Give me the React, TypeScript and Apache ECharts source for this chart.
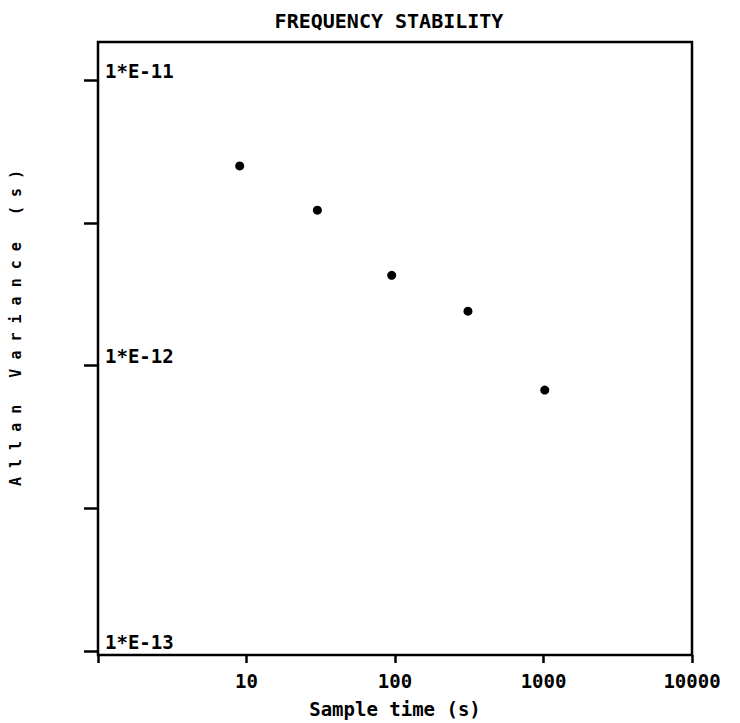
import React, { useEffect, useRef } from "react";
import * as echarts from "echarts";

const titleText = "FREQUENCY STABILITY";
const xName = "Sample time (s)";
const yName = "A l l a n   V a r i a n c e   ( s )";
const sampleTimes = [9, 30, 95, 310, 1020];
const allanValues = [5.0e-12, 3.5e-12, 2.07e-12, 1.55e-12, 8.2e-13];
const xMin = 1;
const xMax = 10000;
const yMin = 1e-13;
const yMax = 1e-11;
const yTickExpMin = -13;
const yTickExpMax = -11;
const yTickStep = 0.5;

const FONT = "'DejaVu Sans Mono', monospace";

export default function App() {
  const ref = useRef<HTMLDivElement>(null);
  useEffect(() => {
    document.body.style.margin = "0";
    if (!ref.current) return;
    const chart = echarts.init(ref.current, null, { renderer: "svg" });
    const gridLeft = 98;
    const gridRight = 48;
    const gridTop = 80;
    const gridBottom = 72;
    chart.setOption({
      animation: false,
      backgroundColor: "#ffffff",
      title: {
        text: titleText,
        left: 384,
        top: 6,
        textAlign: "center",
        textStyle: { fontFamily: FONT, fontWeight: "bold", fontSize: 20, color: "#000" },
      },
      grid: { left: gridLeft, right: gridRight, top: gridTop, bottom: gridBottom },
      xAxis: {
        type: "log",
        logBase: 10,
        min: xMin,
        max: xMax,
        offset: 4,
        name: xName,
        nameLocation: "middle",
        nameGap: 44,
        nameTextStyle: { fontFamily: FONT, fontWeight: "bold", fontSize: 19, color: "#000" },
        axisLine: { show: false },
        axisTick: { show: true, length: 8, lineStyle: { color: "#000", width: 2.5 } },
        axisLabel: {
          margin: 16,
          fontFamily: FONT,
          fontWeight: "bold",
          fontSize: 19,
          color: "#000",
          formatter: (v: number) => (v <= 1.5 ? "" : String(Math.round(v))),
        },
        splitLine: { show: false },
      },
      yAxis: [
        {
          type: "log",
          logBase: 10,
          min: yMin,
          max: yMax,
          position: "left",
          axisLine: { show: false },
          axisTick: { show: false },
          axisLabel: {
            inside: true,
            margin: 7,
            verticalAlign: "bottom",
            fontFamily: FONT,
            fontWeight: "bold",
            fontSize: 19,
            color: "#000",
            formatter: (v: number) => {
              const e = Math.round(Math.log10(v));
              return "1*E" + (e < 0 ? "-" + -e : String(e));
            },
          },
          splitLine: { show: false },
        },
        {
          type: "value",
          min: yTickExpMin,
          max: yTickExpMax,
          interval: yTickStep,
          position: "left",
          axisLine: { show: false },
          axisTick: { show: true, length: 14, lineStyle: { color: "#000", width: 2.5 } },
          axisLabel: { show: false },
          splitLine: { show: false },
        },
      ],
      graphic: [
        {
          type: "rect",
          shape: { x: 98, y: 42, width: 594, height: 613 },
          style: { fill: "none", stroke: "#000", lineWidth: 2.5 },
          silent: true,
        },
        {
          type: "text",
          x: 16,
          y: 328,
          rotation: Math.PI / 2,
          style: {
            text: yName,
            font: "bold 15px " + FONT,
            fill: "#000",
            align: "center",
            verticalAlign: "middle",
          },
          silent: true,
        },
      ],
      series: [
        {
          type: "scatter",
          xAxisIndex: 0,
          yAxisIndex: 0,
          symbol: "circle",
          symbolSize: 9,
          itemStyle: { color: "#000", opacity: 1 },
          data: sampleTimes.map((t, i) => [t, allanValues[i]]),
        },
      ],
    });
    return () => chart.dispose();
  }, []);
  return <div ref={ref} style={{ width: 740, height: 723 }} />;
}
